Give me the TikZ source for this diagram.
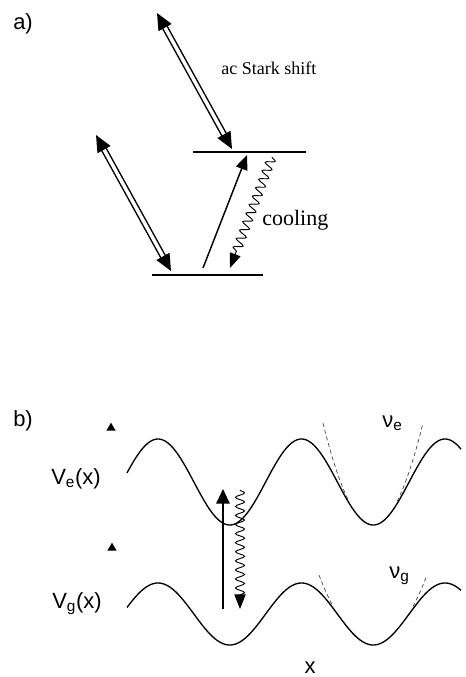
\documentclass[tikz,border=0pt]{standalone}
\usepackage{fontspec}
\setmainfont{Liberation Serif}
\setsansfont{Liberation Sans}
\usetikzlibrary{arrows.meta,decorations.pathmorphing,shapes.geometric}
\begin{document}
\begin{tikzpicture}[x=0.75pt,y=-0.75pt,
  lvl/.style={line width=1.2pt},
  dbl/.style={double, double distance=2.6pt, line width=1.1pt,
    {Triangle[length=12.5pt,width=11pt]}-{Triangle[length=12.5pt,width=11pt]}},
  solidarr/.style={line width=1.1pt, -{Triangle[length=11pt,width=9pt]}},
  wavearr/.style={line width=0.7pt, -{Triangle[length=11pt,width=8.5pt]},
    decorate, decoration={snake, amplitude=3.4pt, segment length=6.8pt, post length=10pt}},
  pot/.style={line width=1.0pt},
  harm/.style={line width=0.5pt, dash pattern=on 3pt off 2.2pt, black!75},
  lab/.style={font=\sffamily\fontsize{16.5}{18}\selectfont, inner sep=0pt},
  serlab/.style={font=\rmfamily\fontsize{13.5}{15}\selectfont, inner sep=0pt},
  serlabb/.style={font=\rmfamily\fontsize{16.5}{18}\selectfont, inner sep=0pt},
  tri/.style={regular polygon, regular polygon sides=3, fill, inner sep=0pt, minimum size=8pt}
]
\useasboundingbox (0,0) rectangle (466,677);
% ---------- part a ----------
\node[lab, anchor=base west] (la) at (13,30) {a)};
\coordinate (U1) at (193,152);
\coordinate (U2) at (306,152);
\coordinate (L1) at (152,275);
\coordinate (L2) at (263,275);
\draw[lvl] (U1) -- (U2);
\draw[lvl] (L1) -- (L2);
\coordinate (D1a) at (157,13);
\coordinate (D1b) at (232,149);
\coordinate (D2a) at (96,135);
\coordinate (D2b) at (171,271);
\draw[dbl] (D1a) -- (D1b);
\draw[dbl] (D2a) -- (D2b);
\coordinate (Sa) at (203,268);
\coordinate (Sb) at (247,155);
\draw[solidarr] (Sa) -- (Sb);
\coordinate (Wa) at (272,157);
\coordinate (Wb) at (230,268);
\draw[wavearr] (Wa) -- (Wb);
\node[serlab, anchor=base west] (stark) at (221,75) {ac Stark shift};
\node[serlabb, anchor=base west] (cool) at (262,225) {cooling};
% ---------- part b ----------
\node[lab, anchor=base west] (lb) at (13,426) {b)};
\node[tri] (t1) at (111,428) {};
\node[tri] (t2) at (112,548) {};
\node[lab, anchor=base west] (ve) at (51,484) {V\textsubscript{e}(x)};
\node[lab, anchor=base west] (vg) at (52,608) {V\textsubscript{g}(x)};
\draw[pot] plot[domain=127:461, samples=240, smooth] (\x, {482-43*cos(2.508711*(\x-158))});
\draw[pot] plot[domain=127:461, samples=240, smooth] (\x, {614-31*cos(2.508711*(\x-158))});
% harmonic approximations
\draw[harm] plot[domain=323:349, samples=20] (\x, {525-0.0408*(\x-373)*(\x-373)});
\draw[harm] plot[domain=397:423, samples=20] (\x, {525-0.0408*(\x-373)*(\x-373)});
\draw[harm] plot[domain=319:333, samples=12] (\x, {645-0.024*(\x-373)*(\x-373)});
\draw[harm] plot[domain=413:427, samples=12] (\x, {645-0.024*(\x-373)*(\x-373)});
\node[lab, anchor=base west] (nue) at (382,427) {ν\textsubscript{e}};
\node[lab, anchor=base west] (nug) at (389,578) {ν\textsubscript{g}};
\coordinate (Va) at (223,609);
\coordinate (Vb) at (223,489);
\draw[line width=1.5pt, -{Triangle[length=11pt,width=10pt]}] (Va) -- (Vb);
\coordinate (Ga) at (240,490);
\coordinate (Gb) at (240,609);
\draw[wavearr] (Ga) -- (Gb);
\node[lab, anchor=base] (xl) at (310,673) {x};
\end{tikzpicture}
\end{document}
